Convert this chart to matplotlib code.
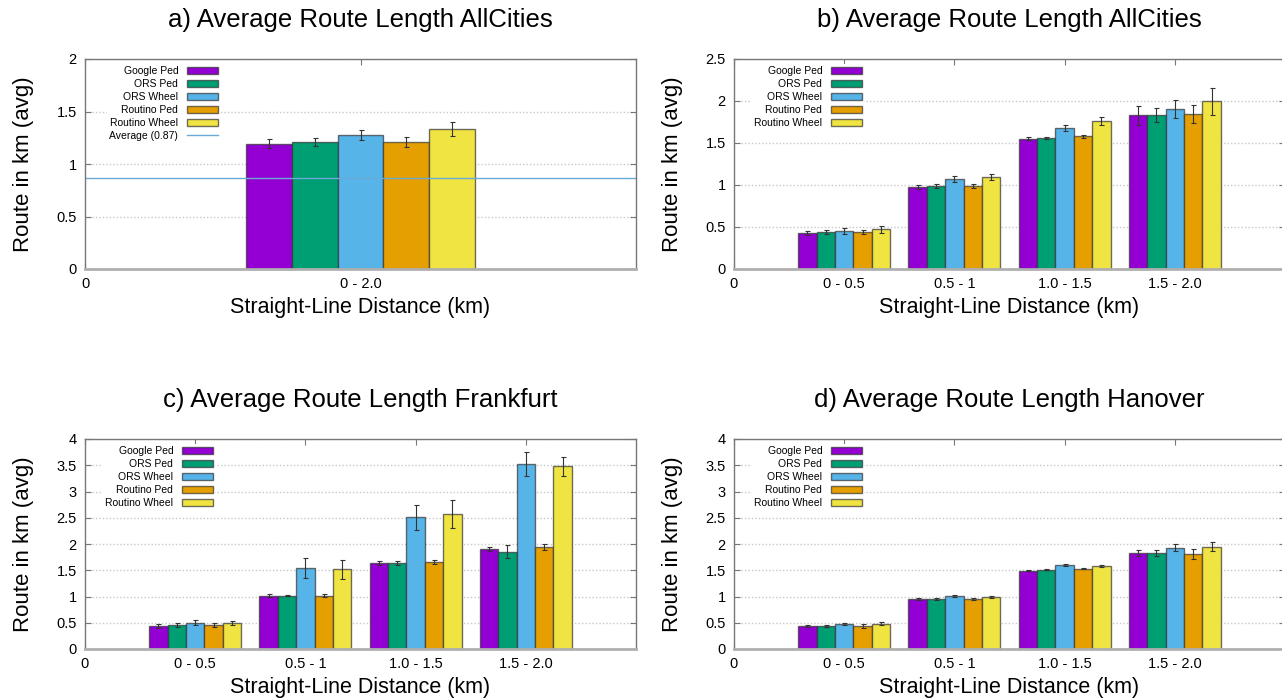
import numpy as np
import matplotlib.pyplot as plt
from matplotlib.lines import Line2D
from matplotlib.patches import Patch
from matplotlib.ticker import FuncFormatter

plt.rcParams['font.family'] = ['Liberation Sans', 'DejaVu Sans']

series = ["Google Ped", "ORS Ped", "ORS Wheel", "Routino Ped", "Routino Wheel"]
colors = ["#9400d3", "#009e73", "#56b4e9", "#e69f00", "#f0e442"]

cats_a = ["0 - 2.0"]
cats_bcd = ["0 - 0.5", "0.5 - 1", "1.0 - 1.5", "1.5 - 2.0"]

# one row per series, one column per distance group
vals_a = [[1.195], [1.205], [1.275], [1.208], [1.332]]
err_a = [[0.045], [0.038], [0.05], [0.045], [0.065]]
average_a = 0.87

vals_b = [[0.429, 0.978, 1.55, 1.828],
          [0.441, 0.99, 1.562, 1.832],
          [0.453, 1.069, 1.677, 1.904],
          [0.441, 0.99, 1.578, 1.844],
          [0.473, 1.093, 1.761, 1.999]]
err_b = [[0.025, 0.02, 0.02, 0.115],
         [0.02, 0.02, 0.015, 0.085],
         [0.035, 0.035, 0.035, 0.11],
         [0.02, 0.02, 0.015, 0.11],
         [0.04, 0.035, 0.045, 0.16]]

vals_c = [[0.44, 1.019, 1.643, 1.898],
          [0.459, 1.019, 1.643, 1.854],
          [0.503, 1.541, 2.51, 3.53],
          [0.452, 1.019, 1.65, 1.943],
          [0.497, 1.522, 2.573, 3.478]]
err_c = [[0.045, 0.02, 0.035, 0.04],
         [0.04, 0.015, 0.035, 0.13],
         [0.05, 0.19, 0.24, 0.23],
         [0.04, 0.02, 0.04, 0.05],
         [0.045, 0.18, 0.27, 0.18]]

vals_d = [[0.44, 0.949, 1.49, 1.828],
          [0.44, 0.949, 1.51, 1.828],
          [0.478, 1.013, 1.605, 1.93],
          [0.44, 0.955, 1.529, 1.809],
          [0.478, 0.994, 1.586, 1.949]]
err_d = [[0.02, 0.015, 0.01, 0.065],
         [0.015, 0.015, 0.01, 0.065],
         [0.02, 0.015, 0.015, 0.07],
         [0.035, 0.015, 0.01, 0.1],
         [0.03, 0.015, 0.015, 0.09]]

fig = plt.figure(figsize=(12.82, 6.98), dpi=100)
W, H = 1282, 698
aw, ah = 551, 210


def panel(px, py, title, cats, vals, errs, ymax, avg=None, leg_x=0.236):
    ax = fig.add_axes([px / W, 1 - (py + ah) / H, aw / W, ah / H])
    n = len(cats)
    x = np.arange(n)
    w = 1 / 6
    for i, name in enumerate(series):
        ax.bar(x + (i - 2) * w, vals[i], w, color=colors[i],
               edgecolor=(0.2, 0.2, 0.2, 0.7), linewidth=1, zorder=2)
        ax.errorbar(x + (i - 2) * w, vals[i], yerr=errs[i], fmt='none',
                    ecolor='#333333', elinewidth=0.8, capsize=1.8,
                    capthick=0.8, zorder=3)
    handles = [Patch(facecolor=c, edgecolor=(0.2, 0.2, 0.2, 0.7), linewidth=1)
               for c in colors]
    labels = list(series)
    if avg is not None:
        ax.axhline(avg, color='#6aaad6', linewidth=1, zorder=2.5)
        handles.append(Line2D([], [], color='#6aaad6', linewidth=1))
        labels.append("Average (%.2f)" % avg)
    ax.set_xlim(-1, n if n > 1 else 1)
    ax.set_ylim(0, ymax)
    ax.set_yticks(np.arange(0, ymax + 0.01, 0.5))
    ax.yaxis.set_major_formatter(FuncFormatter(lambda v, p: '%g' % v))
    ax.set_xticks([-1] + list(x))
    ax.set_xticklabels(["0"] + cats)
    ax.tick_params(direction='in', length=4, width=0.8, color='#777777',
                   labelsize=10.5, top=True, right=True, pad=6)
    ax.grid(axis='y', linestyle=(0, (1, 1.5)), color='#c8c8c8', linewidth=1)
    ax.set_axisbelow(True)
    for s in ['top', 'left', 'right']:
        ax.spines[s].set_color('#777777')
        ax.spines[s].set_linewidth(1)
    ax.spines['bottom'].set_color('#b0b0b0')
    ax.spines['bottom'].set_linewidth(2)
    ax.set_title(title, fontsize=18.5, pad=23)
    ax.set_xlabel("Straight-Line Distance (km)", fontsize=15.5)
    ax.set_ylabel("Route in km (avg)", fontsize=16)
    ax.xaxis.set_label_coords(0.5, -0.135)
    ax.yaxis.set_label_coords(-0.093, 0.5)
    leg = ax.legend(handles, labels, loc='upper right',
                    bbox_to_anchor=(leg_x, 0.975), markerfirst=False,
                    fontsize=7.5, handlelength=3, handleheight=0.6,
                    handletextpad=0.8, labelspacing=0.28, borderpad=0.2,
                    borderaxespad=0, frameon=True, fancybox=False)
    leg.get_frame().set_facecolor('white')
    leg.get_frame().set_edgecolor('none')
    leg.get_frame().set_alpha(1)
    return ax


panel(85, 59, "a) Average Route Length AllCities", cats_a, vals_a, err_a, 2,
      avg=average_a, leg_x=0.245)
panel(734, 59, "b) Average Route Length AllCities", cats_bcd, vals_b, err_b, 2.5)
panel(85, 439, "c) Average Route Length Frankfurt", cats_bcd, vals_c, err_c, 4)
panel(734, 439, "d) Average Route Length Hanover", cats_bcd, vals_d, err_d, 4)

fig.savefig("out.png", dpi=100)
